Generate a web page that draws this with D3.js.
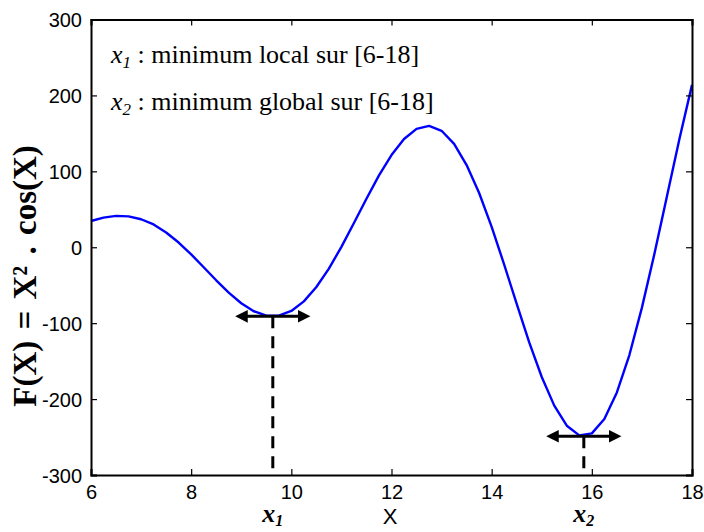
<!DOCTYPE html>
<html><head><meta charset="utf-8">
<script src="https://cdn.jsdelivr.net/npm/d3@7"></script>
<style>body{margin:0;background:#fff}svg{display:block}</style>
</head><body>
<svg id="c" width="704" height="532"></svg>
<script>
// Data
const xs = [6.00,6.25,6.50,6.75,7.00,7.25,7.50,7.75,8.00,8.25,8.50,8.75,9.00,9.25,9.50,9.75,10.00,10.25,10.50,10.75,11.00,11.25,11.50,11.75,12.00,12.25,12.50,12.75,13.00,13.25,13.50,13.75,14.00,14.25,14.50,14.75,15.00,15.25,15.50,15.75,16.00,16.25,16.50,16.75,17.00,17.25,17.50,17.75,18.00];
const fx = [34.6,39.0,41.3,40.7,36.9,30.0,19.5,6.2,-9.3,-26.3,-43.5,-59.8,-73.8,-84.3,-90.0,-90.1,-83.9,-71.3,-52.4,-28.1,0.5,31.9,63.9,94.6,121.5,142.6,155.9,159.8,153.4,136.1,108.3,71.5,26.8,-22.9,-74.6,-125.2,-170.9,-208.6,-235.1,-247.8,-245.2,-226.2,-191.2,-142.0,-79.5,-8.6,67.2,143.0,213.9];
const xTicks = [6,8,10,12,14,16,18];
const yTicks = [-300,-200,-100,0,100,200,300];
const minX = [9.63, 15.84];
const minY = [-91, -249];
const minNames = ["1","2"];
const legendTexts = [" : minimum local sur [6-18]", " : minimum global sur [6-18]"];
const arrowHalf = 0.73;

const svg = d3.select("#c");
const L = 91, R = 692, T = 19.5, B = 475;
const x = d3.scaleLinear().domain([6,18]).range([L,R]);
const y = d3.scaleLinear().domain([-300,300]).range([B,T]);
const fmt = d => String(d);

const defs = svg.append("defs");
defs.append("marker").attr("id","ah").attr("viewBox","0 0 10 10").attr("refX",2).attr("refY",5)
  .attr("markerWidth",4.4).attr("markerHeight",4.2).attr("markerUnits","strokeWidth").attr("orient","auto-start-reverse")
  .append("path").attr("d","M0,0 L10,5 L0,10 Z").attr("fill","#000");

// curve
svg.append("path").datum(xs.map((v,i)=>[v,fx[i]]))
  .attr("d", d3.line().x(d=>x(d[0])).y(d=>y(d[1])))
  .attr("fill","none").attr("stroke","#0000ff").attr("stroke-width",2.4).attr("stroke-linejoin","round");

// axes
const tickFont = "Liberation Sans, Arial, sans-serif";
const gB = svg.append("g").attr("transform",`translate(0,${B})`)
  .call(d3.axisBottom(x).tickValues(xTicks).tickSize(-6).tickPadding(10).tickFormat(fmt));
const gT = svg.append("g").attr("transform",`translate(0,${T})`)
  .call(d3.axisTop(x).tickValues(xTicks).tickSize(-6).tickFormat(""));
const gL = svg.append("g").attr("transform",`translate(${L},0)`)
  .call(d3.axisLeft(y).tickValues(yTicks).tickSize(-6).tickPadding(9).tickFormat(fmt));
const gR = svg.append("g").attr("transform",`translate(${R},0)`)
  .call(d3.axisRight(y).tickValues(yTicks).tickSize(-6).tickFormat(""));
[gB,gT,gL,gR].forEach(g=>{
  g.select(".domain").attr("stroke","#000").attr("stroke-width",2);
  g.selectAll(".tick line").attr("stroke","#000").attr("stroke-width",1.2);
  g.selectAll("text").attr("font-family",tickFont).attr("font-size",20).attr("fill","#000");
});
gB.selectAll("text").attr("dy","0.71em");
gL.selectAll("text").attr("dy","0.36em");

// minima markers
minX.forEach((mx,i)=>{
  svg.append("line").attr("x1",x(mx)).attr("x2",x(mx)).attr("y1",y(minY[i])).attr("y2",B)
    .attr("stroke","#000").attr("stroke-width",3).attr("stroke-dasharray","12,8");
  svg.append("line").attr("x1",x(mx-arrowHalf)+9).attr("x2",x(mx+arrowHalf)-9)
    .attr("y1",y(minY[i])).attr("y2",y(minY[i]))
    .attr("stroke","#000").attr("stroke-width",3)
    .attr("marker-start","url(#ah)").attr("marker-end","url(#ah)");
  const t = svg.append("text").attr("x",x(mx)).attr("y",522).attr("text-anchor","middle")
    .attr("font-family","Liberation Serif, Times New Roman, serif").attr("font-weight","bold")
    .attr("font-style","italic").attr("font-size",26);
  t.append("tspan").text("x");
  t.append("tspan").attr("font-size",16).attr("dy",4).text(minNames[i]);
});

// legend text
legendTexts.forEach((s,i)=>{
  const t = svg.append("text").attr("x",111).attr("y",63+i*47)
    .attr("font-family","Liberation Serif, Times New Roman, serif").attr("font-size",26).attr("fill","#000");
  t.append("tspan").attr("font-style","italic").text("x");
  t.append("tspan").attr("font-style","italic").attr("font-size",17).attr("dy",5).text(minNames[i]);
  t.append("tspan").attr("dy",-5).text(s);
});

// axis labels
svg.append("text").attr("x",390).attr("y",524).attr("text-anchor","middle")
  .attr("font-family",tickFont).attr("font-size",22).text("X");
svg.append("text").attr("transform","translate(36,276) rotate(-90)").attr("text-anchor","middle")
  .attr("font-family","Liberation Serif, Times New Roman, serif").attr("font-weight","bold").attr("font-size",33)
  .attr("word-spacing",3).text("F(X) = X² . cos(X)");
</script>
</body></html>
